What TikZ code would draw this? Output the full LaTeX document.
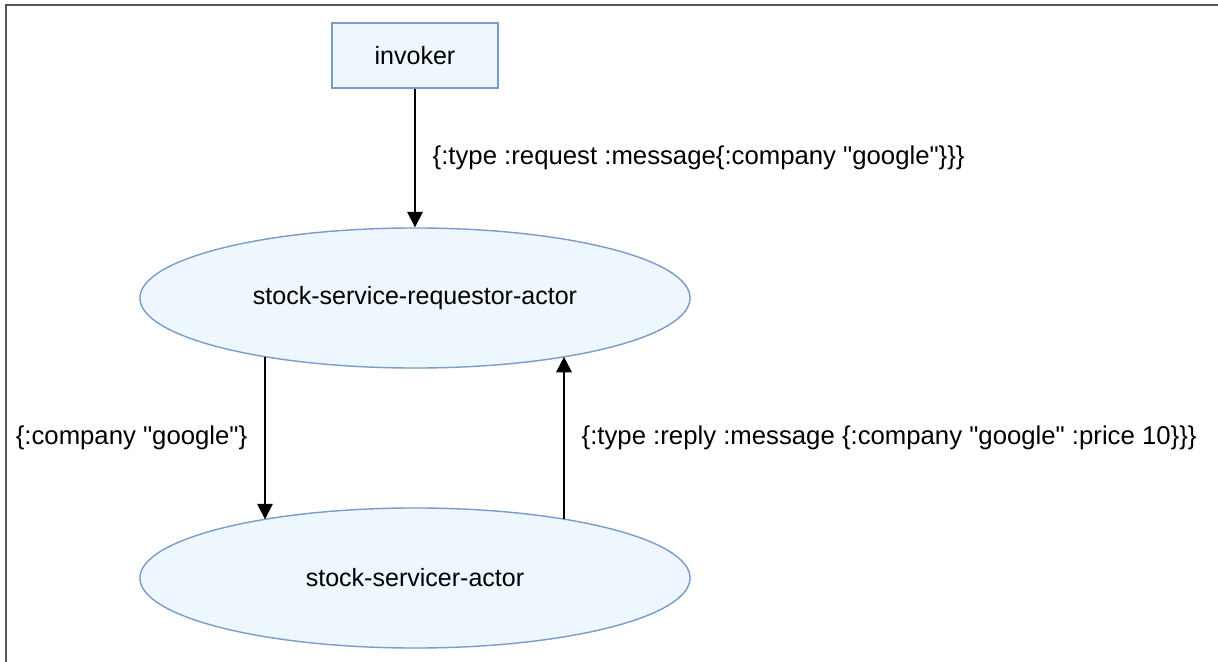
\documentclass[tikz,border=0pt]{standalone}
\usepackage{fontspec}
\setmainfont{Liberation Sans}[Ligatures=TeXOff]
\usepackage{tikz}
\usetikzlibrary{shapes.geometric}
\usetikzlibrary{arrows.meta}
\usetikzlibrary{calc}

\definecolor{actorfill}{RGB}{238,246,254}
\definecolor{actorline}{RGB}{122,156,204}
\definecolor{framegray}{RGB}{85,85,85}

\tikzset{
    actor/.style={ellipse, draw=actorline, fill=actorfill, line width=1pt,
        minimum width=13.75cm, minimum height=3.5cm},
    invokerbox/.style={rectangle, draw=actorline, fill=actorfill, line width=1pt,
        minimum width=4.15cm, minimum height=1.62cm},
    msg/.style={-{Triangle[length=11pt,width=11pt]}, line width=1.2pt},
    msglabel/.style={font=\fontsize{18.3}{22}\selectfont, inner sep=0pt}
}

\begin{document}
\begin{tikzpicture}[x=0.025cm, y=-0.025cm, font=\fontsize{17.8}{21}\selectfont]
    \useasboundingbox (0,0) rectangle (1218,662);
    \fill[white] (0,0) rectangle (1218,662);

    % frame (only top and left edges are shown)
    \draw[framegray, line width=1.5pt] (6,662) -- (6,5) -- (1218,5);

    \node[invokerbox] (inv) at (415,55.5) {invoker};
    \node[actor] (req) at (415,298) {stock-service-requestor-actor};
    \node[actor] (srv) at (415,578) {stock-servicer-actor};

    \draw[msg] (inv.south) -- (req.north)
        node[midway, right=12pt, msglabel] {\{:type :request :message\{:company "google"\}\}\}};

    % the two side arrows meet both ellipses at the same x
    \draw[msg] ($(req.center)+(-150,58.7)$) -- ($(srv.center)+(-150,-58.7)$)
        node[midway, left=12pt, msglabel] {\{:company "google"\}};
    \draw[msg] ($(srv.center)+(149,-58.8)$) -- ($(req.center)+(149,58.8)$)
        node[midway, right=12pt, msglabel] {\{:type :reply :message \{:company "google" :price 10\}\}\}};
\end{tikzpicture}
\end{document}
